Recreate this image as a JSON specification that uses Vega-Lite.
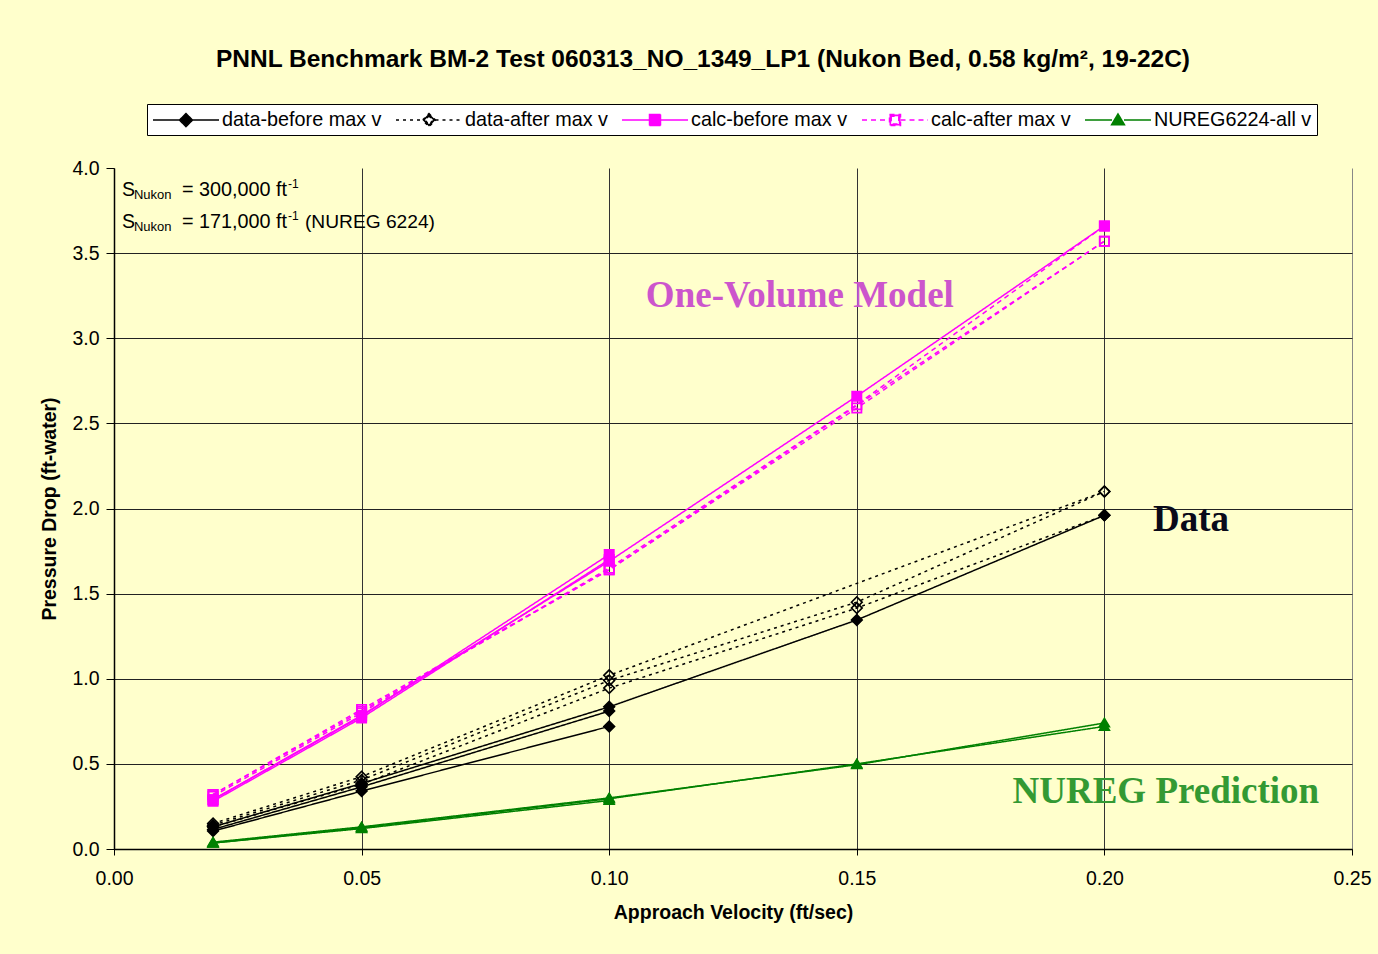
{
  "$schema": "https://vega.github.io/schema/vega-lite/v6.json",
  "width": 1238,
  "height": 681,
  "autosize": {"type": "none"},
  "padding": {"left": 114, "top": 168, "right": 26, "bottom": 105},
  "background": "#FFFFCC",
  "config": {
    "font": "Liberation Sans",
    "view": {"stroke": null},
    "axis": {
      "domainColor": "#000000",
      "domainWidth": 1.5,
      "tickColor": "#000000",
      "tickWidth": 1,
      "labelFontSize": 19.5,
      "labelColor": "#000000",
      "labelFont": "Liberation Sans",
      "titleFont": "Liberation Sans",
      "titleFontSize": 19.5,
      "titleFontWeight": "bold",
      "titleColor": "#000000",
      "grid": true,
      "gridWidth": 1,
      "labelFlush": false,
      "labelOverlap": false
    }
  },
  "title": {
    "text": "PNNL Benchmark BM-2 Test 060313_NO_1349_LP1 (Nukon Bed, 0.58 kg/m², 19-22C)",
    "font": "Liberation Sans",
    "fontSize": 24.5,
    "fontWeight": "bold",
    "color": "#000000",
    "anchor": "middle",
    "dx": -30,
    "offset": 31
  },
  "datasets": {
    "pts": [
      {"series": "data-after max v", "run": "a1", "v": 0.20, "dp": 2.10},
      {"series": "data-after max v", "run": "a1", "v": 0.10, "dp": 1.02},
      {"series": "data-after max v", "run": "a1", "v": 0.05, "dp": 0.425},
      {"series": "data-after max v", "run": "a1", "v": 0.02, "dp": 0.15},
      {"series": "data-after max v", "run": "a2", "v": 0.20, "dp": 2.10},
      {"series": "data-after max v", "run": "a2", "v": 0.15, "dp": 1.45},
      {"series": "data-after max v", "run": "a2", "v": 0.10, "dp": 0.99},
      {"series": "data-after max v", "run": "a2", "v": 0.05, "dp": 0.405},
      {"series": "data-after max v", "run": "a2", "v": 0.02, "dp": 0.14},
      {"series": "data-after max v", "run": "a3", "v": 0.20, "dp": 1.96},
      {"series": "data-after max v", "run": "a3", "v": 0.15, "dp": 1.415},
      {"series": "data-after max v", "run": "a3", "v": 0.10, "dp": 0.945},
      {"series": "data-after max v", "run": "a3", "v": 0.05, "dp": 0.38},
      {"series": "data-after max v", "run": "a3", "v": 0.02, "dp": 0.13},
      {"series": "calc-after max v", "run": "ca1", "v": 0.20, "dp": 3.57},
      {"series": "calc-after max v", "run": "ca1", "v": 0.10, "dp": 1.64},
      {"series": "calc-after max v", "run": "ca1", "v": 0.05, "dp": 0.82},
      {"series": "calc-after max v", "run": "ca1", "v": 0.02, "dp": 0.32},
      {"series": "calc-after max v", "run": "ca2", "v": 0.20, "dp": 3.57},
      {"series": "calc-after max v", "run": "ca2", "v": 0.15, "dp": 2.59},
      {"series": "calc-after max v", "run": "ca2", "v": 0.10, "dp": 1.64},
      {"series": "calc-after max v", "run": "ca2", "v": 0.05, "dp": 0.81},
      {"series": "calc-after max v", "run": "ca2", "v": 0.02, "dp": 0.32},
      {"series": "calc-after max v", "run": "ca3", "v": 0.20, "dp": 3.66},
      {"series": "calc-after max v", "run": "ca3", "v": 0.15, "dp": 2.61},
      {"series": "calc-after max v", "run": "ca3", "v": 0.10, "dp": 1.65},
      {"series": "calc-after max v", "run": "ca3", "v": 0.05, "dp": 0.80},
      {"series": "calc-after max v", "run": "ca3", "v": 0.02, "dp": 0.31},
      {"series": "data-before max v", "run": "b1", "v": 0.02, "dp": 0.105},
      {"series": "data-before max v", "run": "b1", "v": 0.05, "dp": 0.34},
      {"series": "data-before max v", "run": "b1", "v": 0.10, "dp": 0.72},
      {"series": "data-before max v", "run": "b2", "v": 0.02, "dp": 0.115},
      {"series": "data-before max v", "run": "b2", "v": 0.05, "dp": 0.365},
      {"series": "data-before max v", "run": "b2", "v": 0.10, "dp": 0.81},
      {"series": "data-before max v", "run": "b3", "v": 0.02, "dp": 0.13},
      {"series": "data-before max v", "run": "b3", "v": 0.05, "dp": 0.385},
      {"series": "data-before max v", "run": "b3", "v": 0.10, "dp": 0.835},
      {"series": "data-before max v", "run": "b3", "v": 0.15, "dp": 1.345},
      {"series": "data-before max v", "run": "b3", "v": 0.20, "dp": 1.96},
      {"series": "calc-before max v", "run": "cb1", "v": 0.02, "dp": 0.28},
      {"series": "calc-before max v", "run": "cb1", "v": 0.05, "dp": 0.77},
      {"series": "calc-before max v", "run": "cb1", "v": 0.10, "dp": 1.70},
      {"series": "calc-before max v", "run": "cb2", "v": 0.02, "dp": 0.29},
      {"series": "calc-before max v", "run": "cb2", "v": 0.05, "dp": 0.78},
      {"series": "calc-before max v", "run": "cb2", "v": 0.10, "dp": 1.73},
      {"series": "calc-before max v", "run": "cb3", "v": 0.02, "dp": 0.29},
      {"series": "calc-before max v", "run": "cb3", "v": 0.05, "dp": 0.785},
      {"series": "calc-before max v", "run": "cb3", "v": 0.10, "dp": 1.69},
      {"series": "calc-before max v", "run": "cb3", "v": 0.15, "dp": 2.66},
      {"series": "calc-before max v", "run": "cb3", "v": 0.20, "dp": 3.66},
      {"series": "NUREG6224-all v", "run": "n1", "v": 0.02, "dp": 0.035},
      {"series": "NUREG6224-all v", "run": "n1", "v": 0.05, "dp": 0.12},
      {"series": "NUREG6224-all v", "run": "n1", "v": 0.10, "dp": 0.285},
      {"series": "NUREG6224-all v", "run": "n2", "v": 0.02, "dp": 0.035},
      {"series": "NUREG6224-all v", "run": "n2", "v": 0.05, "dp": 0.125},
      {"series": "NUREG6224-all v", "run": "n2", "v": 0.10, "dp": 0.295},
      {"series": "NUREG6224-all v", "run": "n2", "v": 0.15, "dp": 0.50},
      {"series": "NUREG6224-all v", "run": "n2", "v": 0.20, "dp": 0.72},
      {"series": "NUREG6224-all v", "run": "n3", "v": 0.02, "dp": 0.04},
      {"series": "NUREG6224-all v", "run": "n3", "v": 0.05, "dp": 0.13},
      {"series": "NUREG6224-all v", "run": "n3", "v": 0.10, "dp": 0.30},
      {"series": "NUREG6224-all v", "run": "n3", "v": 0.15, "dp": 0.495},
      {"series": "NUREG6224-all v", "run": "n3", "v": 0.20, "dp": 0.74}
    ]
  },
  "encoding": {
    "x": {
      "field": "v",
      "type": "quantitative",
      "scale": {"domain": [0, 0.25], "nice": false, "zero": false},
      "axis": {
        "title": "Approach Velocity (ft/sec)",
        "values": [0, 0.05, 0.1, 0.15, 0.2, 0.25],
        "format": ".2f",
        "tickSize": 6,
        "labelPadding": 14,
        "titlePadding": 16,
        "gridColor": {"condition": {"test": "datum.value >= 0.25", "value": "#888888"}, "value": "#333333"}
      }
    },
    "y": {
      "field": "dp",
      "type": "quantitative",
      "scale": {"domain": [0, 4], "nice": false, "zero": false},
      "axis": {
        "title": "Pressure Drop (ft-water)",
        "values": [0, 0.5, 1, 1.5, 2, 2.5, 3, 3.5, 4],
        "format": ".1f",
        "tickSize": 8,
        "labelPadding": 7,
        "titlePadding": 12,
        "gridColor": {"condition": {"test": "datum.value >= 4", "value": "transparent"}, "value": "#222222"}
      }
    }
  },
  "layer": [
    {
      "data": {"name": "pts"},
      "mark": {"type": "line"},
      "encoding": {
        "color": {
          "field": "series",
          "type": "nominal",
          "scale": {
            "domain": ["data-before max v", "data-after max v", "calc-before max v", "calc-after max v", "NUREG6224-all v"],
            "range": ["#000000", "#000000", "#FF00FF", "#FF00FF", "#008000"]
          },
          "legend": {
            "orient": "none", "legendX": 33, "legendY": -64, "direction": "horizontal", "columns": 5, "title": null,
            "padding": 5, "strokeColor": "#000000", "fillColor": "#FFFFFF", "symbolSize": 400, "symbolStrokeWidth": 1.5,
            "symbolOffset": 23, "symbolOpacity": 1,
            "labelOffset": 25, "columnPadding": 11, "labelFontSize": 19.8, "labelFont": "Liberation Sans", "labelColor": "#000000", "labelLimit": 0
          }
        },
        "strokeDash": {
          "field": "series",
          "type": "nominal",
          "scale": {
            "domain": ["data-before max v", "data-after max v", "calc-before max v", "calc-after max v", "NUREG6224-all v"],
            "range": [[1, 0], [3, 4], [1, 0], [5, 4], [1, 0]]
          },
          "legend": null
        },
        "strokeWidth": {
          "field": "series",
          "type": "nominal",
          "scale": {
            "domain": ["data-before max v", "data-after max v", "calc-before max v", "calc-after max v", "NUREG6224-all v"],
            "range": [1.5, 1.5, 1.5, 1.5, 2.5]
          },
          "legend": null
        },
        "detail": {"field": "run", "type": "nominal"}
      }
    },
    {
      "data": {"name": "pts"},
      "mark": {"type": "point", "filled": true, "opacity": 1, "strokeWidth": 0, "size": 400},
      "encoding": {
        "shape": {
          "field": "series",
          "type": "nominal",
          "scale": {
            "domain": ["data-before max v", "data-after max v", "calc-before max v", "calc-after max v", "NUREG6224-all v"],
            "range": [
              "M-3.3,0H-0.65M0.65,0H3.3M0,-0.65L0.65,0L0,0.65L-0.65,0Z",
              "M-3.3,0H-0.65M0.65,0H3.3M0,-0.65L0.65,0L0,0.65L-0.65,0ZM0,-0.42L-0.42,0L0,0.42L0.42,0Z",
              "M-3.3,0H-0.55M0.55,0H3.3M-0.55,-0.55H0.55V0.55H-0.55Z",
              "M-3.3,0H-0.55M0.55,0H3.3M-0.55,-0.55H0.55V0.55H-0.55ZM-0.38,-0.38V0.38H0.38V-0.38Z",
              "M-3.3,0H-0.6M0.6,0H3.3M0,-0.62L0.64,0.46H-0.64Z"
            ]
          },
          "legend": null
        },
        "fill": {
          "field": "series",
          "type": "nominal",
          "scale": {
            "domain": ["data-before max v", "data-after max v", "calc-before max v", "calc-after max v", "NUREG6224-all v"],
            "range": ["#000000", "#000000", "#FF00FF", "#FF00FF", "#008000"]
          },
          "legend": null
        }
      }
    },
    {
      "data": {"values": [{"v": 0.1385, "dp": 3.25, "t": "One-Volume Model"}]},
      "mark": {"type": "text", "font": "Liberation Serif", "fontWeight": "bold", "fontSize": 37, "color": "#CC55CC", "align": "center", "baseline": "middle"},
      "encoding": {"text": {"field": "t"}}
    },
    {
      "data": {"values": [{"v": 0.2175, "dp": 1.93, "t": "Data"}]},
      "mark": {"type": "text", "font": "Liberation Serif", "fontWeight": "bold", "fontSize": 37, "color": "#0A0A1A", "align": "center", "baseline": "middle"},
      "encoding": {"text": {"field": "t"}}
    },
    {
      "data": {"values": [{"v": 0.2124, "dp": 0.335, "t": "NUREG Prediction"}]},
      "mark": {"type": "text", "font": "Liberation Serif", "fontWeight": "bold", "fontSize": 37, "color": "#339933", "align": "center", "baseline": "middle"},
      "encoding": {"text": {"field": "t"}}
    },
    {
      "data": {"values": [{"v": 0.0016, "dp": 3.835, "t": "S"}, {"v": 0.0016, "dp": 3.6475, "t": "S"}]},
      "mark": {"type": "text", "fontSize": 19.5, "color": "#000000", "align": "left", "baseline": "alphabetic"},
      "encoding": {"text": {"field": "t"}}
    },
    {
      "data": {"values": [{"v": 0.0016, "dp": 3.835, "t": "Nukon"}, {"v": 0.0016, "dp": 3.6475, "t": "Nukon"}]},
      "mark": {"type": "text", "fontSize": 13, "color": "#000000", "align": "left", "baseline": "alphabetic", "dx": 12, "dy": 3},
      "encoding": {"text": {"field": "t"}}
    },
    {
      "data": {"values": [{"v": 0.0016, "dp": 3.835, "t": "= 300,000 ft"}, {"v": 0.0016, "dp": 3.6475, "t": "= 171,000 ft"}]},
      "mark": {"type": "text", "fontSize": 19.8, "color": "#000000", "align": "left", "baseline": "alphabetic", "dx": 60},
      "encoding": {"text": {"field": "t"}}
    },
    {
      "data": {"values": [{"v": 0.0016, "dp": 3.835, "t": "-1"}, {"v": 0.0016, "dp": 3.6475, "t": "-1"}]},
      "mark": {"type": "text", "fontSize": 12, "color": "#000000", "align": "left", "baseline": "alphabetic", "dx": 166, "dy": -8},
      "encoding": {"text": {"field": "t"}}
    },
    {
      "data": {"values": [{"v": 0.0016, "dp": 3.6475, "t": "(NUREG 6224)"}]},
      "mark": {"type": "text", "fontSize": 19.2, "color": "#000000", "align": "left", "baseline": "alphabetic", "dx": 183},
      "encoding": {"text": {"field": "t"}}
    }
  ]
}
